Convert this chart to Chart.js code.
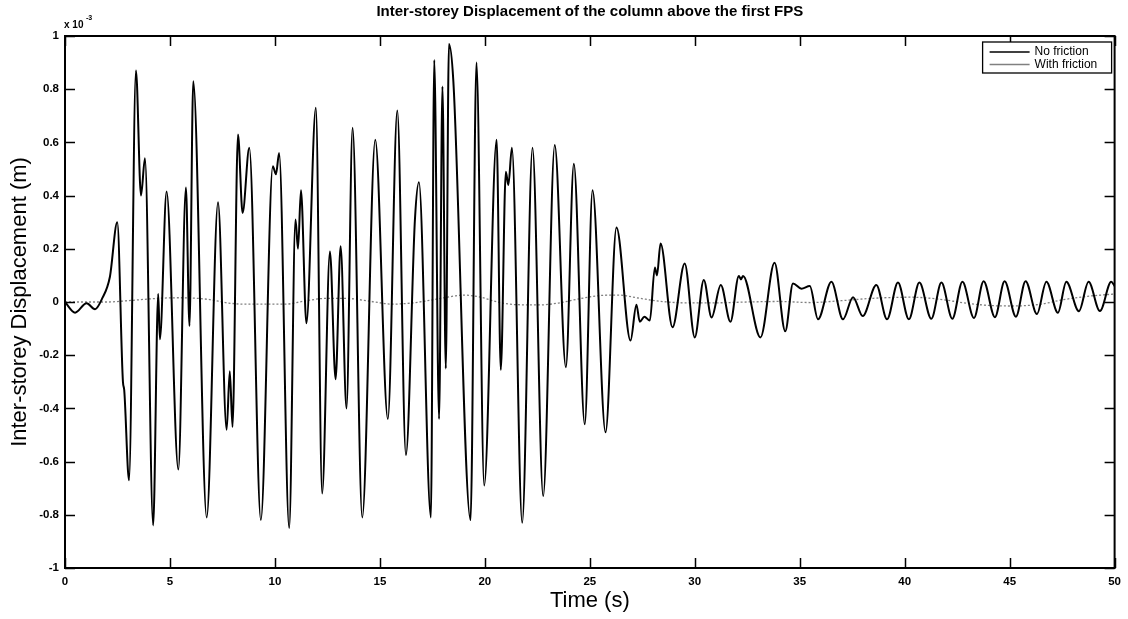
<!DOCTYPE html>
<html>
<head>
<meta charset="utf-8">
<script src="https://cdn.jsdelivr.net/npm/chart.js@4.4.0/dist/chart.umd.min.js"></script>
<style>
  html, body { margin: 0; padding: 0; background: #fff; }
</style>
</head>
<body>
<canvas id="c" width="1128" height="619"></canvas>
<script>
// values in units of 1e-3 m
const xTicks = [0, 5, 10, 15, 20, 25, 30, 35, 40, 45, 50];
const yTicks = [-1, -0.8, -0.6, -0.4, -0.2, 0, 0.2, 0.4, 0.6, 0.8, 1];

const noFrictionT = [0, 0.48, 1.03, 1.43, 1.75, 2.14, 2.49, 2.76, 2.82, 3.05, 3.38, 3.62, 3.81, 4.2, 4.44, 4.52, 4.84, 5.4, 5.76, 5.93,
  6.11, 6.75, 7.29, 7.7, 7.85, 7.98, 8.24, 8.46, 8.78, 9.33, 9.9, 10.05, 10.2, 10.68, 10.98, 11.1, 11.24, 11.5, 11.95, 12.25,
  12.62, 12.89, 13.13, 13.41, 13.7, 14.16, 14.78, 15.38, 15.83, 16.24, 16.67, 16.86, 17.43, 17.59, 17.82, 17.98, 18.14, 18.29, 18.5, 19.32,
  19.6, 19.97, 20.56, 20.76, 21.0, 21.12, 21.29, 21.78, 22.27, 22.78, 23.33, 23.86, 24.24, 24.76, 25.13, 25.75, 26.27, 26.94, 27.22, 27.38,
  27.6, 27.86, 28.1, 28.2, 28.37, 28.94, 29.52, 30.0, 30.43, 30.8, 31.24, 31.7, 32.1, 32.2, 32.3, 33.13, 33.8, 34.31, 34.68, 35.08,
  35.48, 35.87, 36.51, 37.06, 37.54, 38.0, 38.65, 39.16, 39.68, 40.2, 40.7, 41.27, 41.75, 42.27, 42.75, 43.3, 43.76, 44.3, 44.76, 45.3,
  45.76, 46.3, 46.75, 47.3, 47.7, 48.3, 48.76, 49.3, 49.84, 50];
const noFrictionV = [0, -0.04, -0.005, -0.027, 0.01, 0.095, 0.30, -0.30, -0.33, -0.67, 0.87, 0.40, 0.54, -0.84, 0.03, -0.14, 0.415, -0.63, 0.43, -0.09,
  0.83, -0.81, 0.375, -0.48, -0.26, -0.47, 0.63, 0.335, 0.58, -0.82, 0.51, 0.48, 0.56, -0.85, 0.31, 0.2, 0.42, -0.08, 0.73, -0.72,
  0.19, -0.29, 0.21, -0.40, 0.655, -0.81, 0.61, -0.44, 0.72, -0.575, 0.31, 0.45, -0.81, 0.91, -0.44, 0.81, -0.25, 0.97, 0.83, -0.82,
  0.90, -0.69, 0.61, -0.255, 0.49, 0.44, 0.58, -0.83, 0.58, -0.73, 0.59, -0.245, 0.52, -0.46, 0.42, -0.49, 0.28, -0.145, -0.01, -0.074,
  -0.055, -0.07, 0.13, 0.10, 0.22, -0.095, 0.145, -0.133, 0.083, -0.058, 0.064, -0.074, 0.098, 0.085, 0.098, -0.133, 0.148, -0.11, 0.07, 0.05,
  0.06, -0.065, 0.076, -0.065, 0.018, -0.053, 0.064, -0.065, 0.073, -0.065, 0.073, -0.063, 0.073, -0.063, 0.076, -0.06, 0.078, -0.057, 0.078, -0.055,
  0.078, -0.045, 0.076, -0.04, 0.076, -0.035, 0.076, -0.034, 0.076, 0.06];

const withFrictionT = [0, 2, 3, 4.5, 5.5, 6.8, 7.8, 8.5, 10.5, 11.5, 12.5, 13.5, 14.6, 15.6, 16.5, 17.2, 18, 19, 19.8, 20.6,
  21.5, 22.6, 23.5, 24.5, 25.6, 26.4, 27.3, 28.3, 29.5, 31, 32.5, 34, 35.5, 37, 38.5, 40.3, 41.5, 43, 44, 45.1,
  46.5, 47.5, 48.8, 50];
const withFrictionV = [0, 0, 0.005, 0.014, 0.016, 0.01, -0.004, -0.008, -0.008, 0.005, 0.014, 0.013, 0.002, -0.008, -0.004, 0.004, 0.015, 0.026, 0.018, 0,
  -0.01, -0.011, -0.004, 0.012, 0.025, 0.026, 0.015, 0.003, -0.003, -0.003, 0, 0.002, -0.002, 0.005, 0.014, 0.018, 0.012, -0.005, -0.013, -0.015,
  -0.008, 0.008, 0.022, 0.03];

const toPoints = (ts, vs) => ts.map((t, i) => ({ x: t, y: vs[i] }));

const FONT = '"Liberation Sans", Arial, sans-serif';

// matlab style box, inward ticks, exponent label and legend
const matlabFrame = {
  id: 'matlabFrame',
  afterDraw(chart) {
    const { ctx, chartArea: { left, right, top, bottom }, scales: { x, y } } = chart;
    ctx.save();
    ctx.strokeStyle = '#000';
    ctx.lineWidth = 1.5;
    ctx.beginPath();
    xTicks.forEach(v => {
      const px = Math.round(x.getPixelForValue(v)) + 0.5;
      ctx.moveTo(px, bottom); ctx.lineTo(px, bottom - 10);
      ctx.moveTo(px, top); ctx.lineTo(px, top + 10);
    });
    yTicks.forEach(v => {
      const py = Math.round(y.getPixelForValue(v)) + 0.5;
      ctx.moveTo(left, py); ctx.lineTo(left + 10, py);
      ctx.moveTo(right, py); ctx.lineTo(right - 10, py);
    });
    ctx.stroke();
    ctx.lineWidth = 2;
    ctx.strokeRect(left, top, right - left, bottom - top);

    // exponent
    ctx.fillStyle = '#000';
    ctx.textBaseline = 'middle';
    ctx.textAlign = 'left';
    ctx.font = 'bold 10px ' + FONT;
    ctx.fillText('x 10', left - 1, top - 11);
    ctx.font = 'bold 7px ' + FONT;
    ctx.fillText('-3', left + 21, top - 18);

    // legend
    const lx = right - 132, ly = top + 6, lw = 129, lh = 31;
    ctx.fillStyle = '#fff';
    ctx.fillRect(lx, ly, lw, lh);
    ctx.lineWidth = 1.3;
    ctx.strokeStyle = '#000';
    ctx.strokeRect(lx, ly, lw, lh);
    ctx.font = '12px ' + FONT;
    chart.data.datasets.forEach((ds, i) => {
      const yy = ly + 10 + i * 12.5;
      ctx.strokeStyle = ds.borderColor;
      ctx.lineWidth = 1.3;
      ctx.beginPath();
      ctx.moveTo(lx + 7, yy); ctx.lineTo(lx + 47, yy);
      ctx.stroke();
      ctx.fillStyle = '#000';
      ctx.fillText(ds.label, lx + 52, yy);
    });
    ctx.restore();
  }
};

new Chart(document.getElementById('c'), {
  type: 'line',
  data: {
    datasets: [
      {
        label: 'No friction',
        data: toPoints(noFrictionT, noFrictionV),
        borderColor: '#000000',
        borderWidth: 2,
        pointRadius: 0,
        tension: 0.4,
        cubicInterpolationMode: 'monotone'
      },
      {
        label: 'With friction',
        data: toPoints(withFrictionT, withFrictionV),
        borderColor: '#808080',
        borderWidth: 1.3,
        borderDash: [2, 2],
        pointRadius: 0,
        tension: 0.4,
        cubicInterpolationMode: 'monotone'
      }
    ]
  },
  options: {
    responsive: false,
    animation: false,
    layout: { padding: { left: 0, right: 13, top: 0, bottom: 0 } },
    plugins: {
      legend: { display: false },
      tooltip: { enabled: false },
      title: {
        display: true,
        fullSize: false,
        text: 'Inter-storey Displacement of the column above the first FPS',
        color: '#000',
        font: { family: FONT, size: 15, weight: 'bold', lineHeight: 1.2 },
        padding: { top: 3, bottom: 15 }
      }
    },
    scales: {
      x: {
        type: 'linear',
        min: 0,
        max: 50,
        afterBuildTicks: s => { s.ticks = xTicks.map(v => ({ value: v })); },
        afterFit: s => { s.height = 51; },
        grid: { display: false, drawTicks: false },
        border: { display: false },
        ticks: {
          color: '#000',
          padding: 7,
          maxRotation: 0,
          font: { family: FONT, size: 11.5, weight: 'bold' }
        },
        title: {
          display: true,
          text: 'Time (s)',
          color: '#000',
          font: { family: FONT, size: 22 },
          padding: { top: 0, bottom: 5 }
        }
      },
      y: {
        type: 'linear',
        min: -1,
        max: 1,
        afterBuildTicks: s => { s.ticks = yTicks.map(v => ({ value: v })); },
        afterFit: s => { s.width = 65; },
        grid: { display: false, drawTicks: false },
        border: { display: false },
        ticks: {
          color: '#000',
          padding: 6,
          font: { family: FONT, size: 11.5, weight: 'bold' },
          callback: v => String(parseFloat(Number(v).toFixed(1)))
        },
        title: {
          display: true,
          text: 'Inter-storey Displacement (m)',
          color: '#000',
          font: { family: FONT, size: 22 },
          padding: { top: 7, bottom: 0 }
        }
      }
    }
  },
  plugins: [matlabFrame]
});
</script>
</body>
</html>
